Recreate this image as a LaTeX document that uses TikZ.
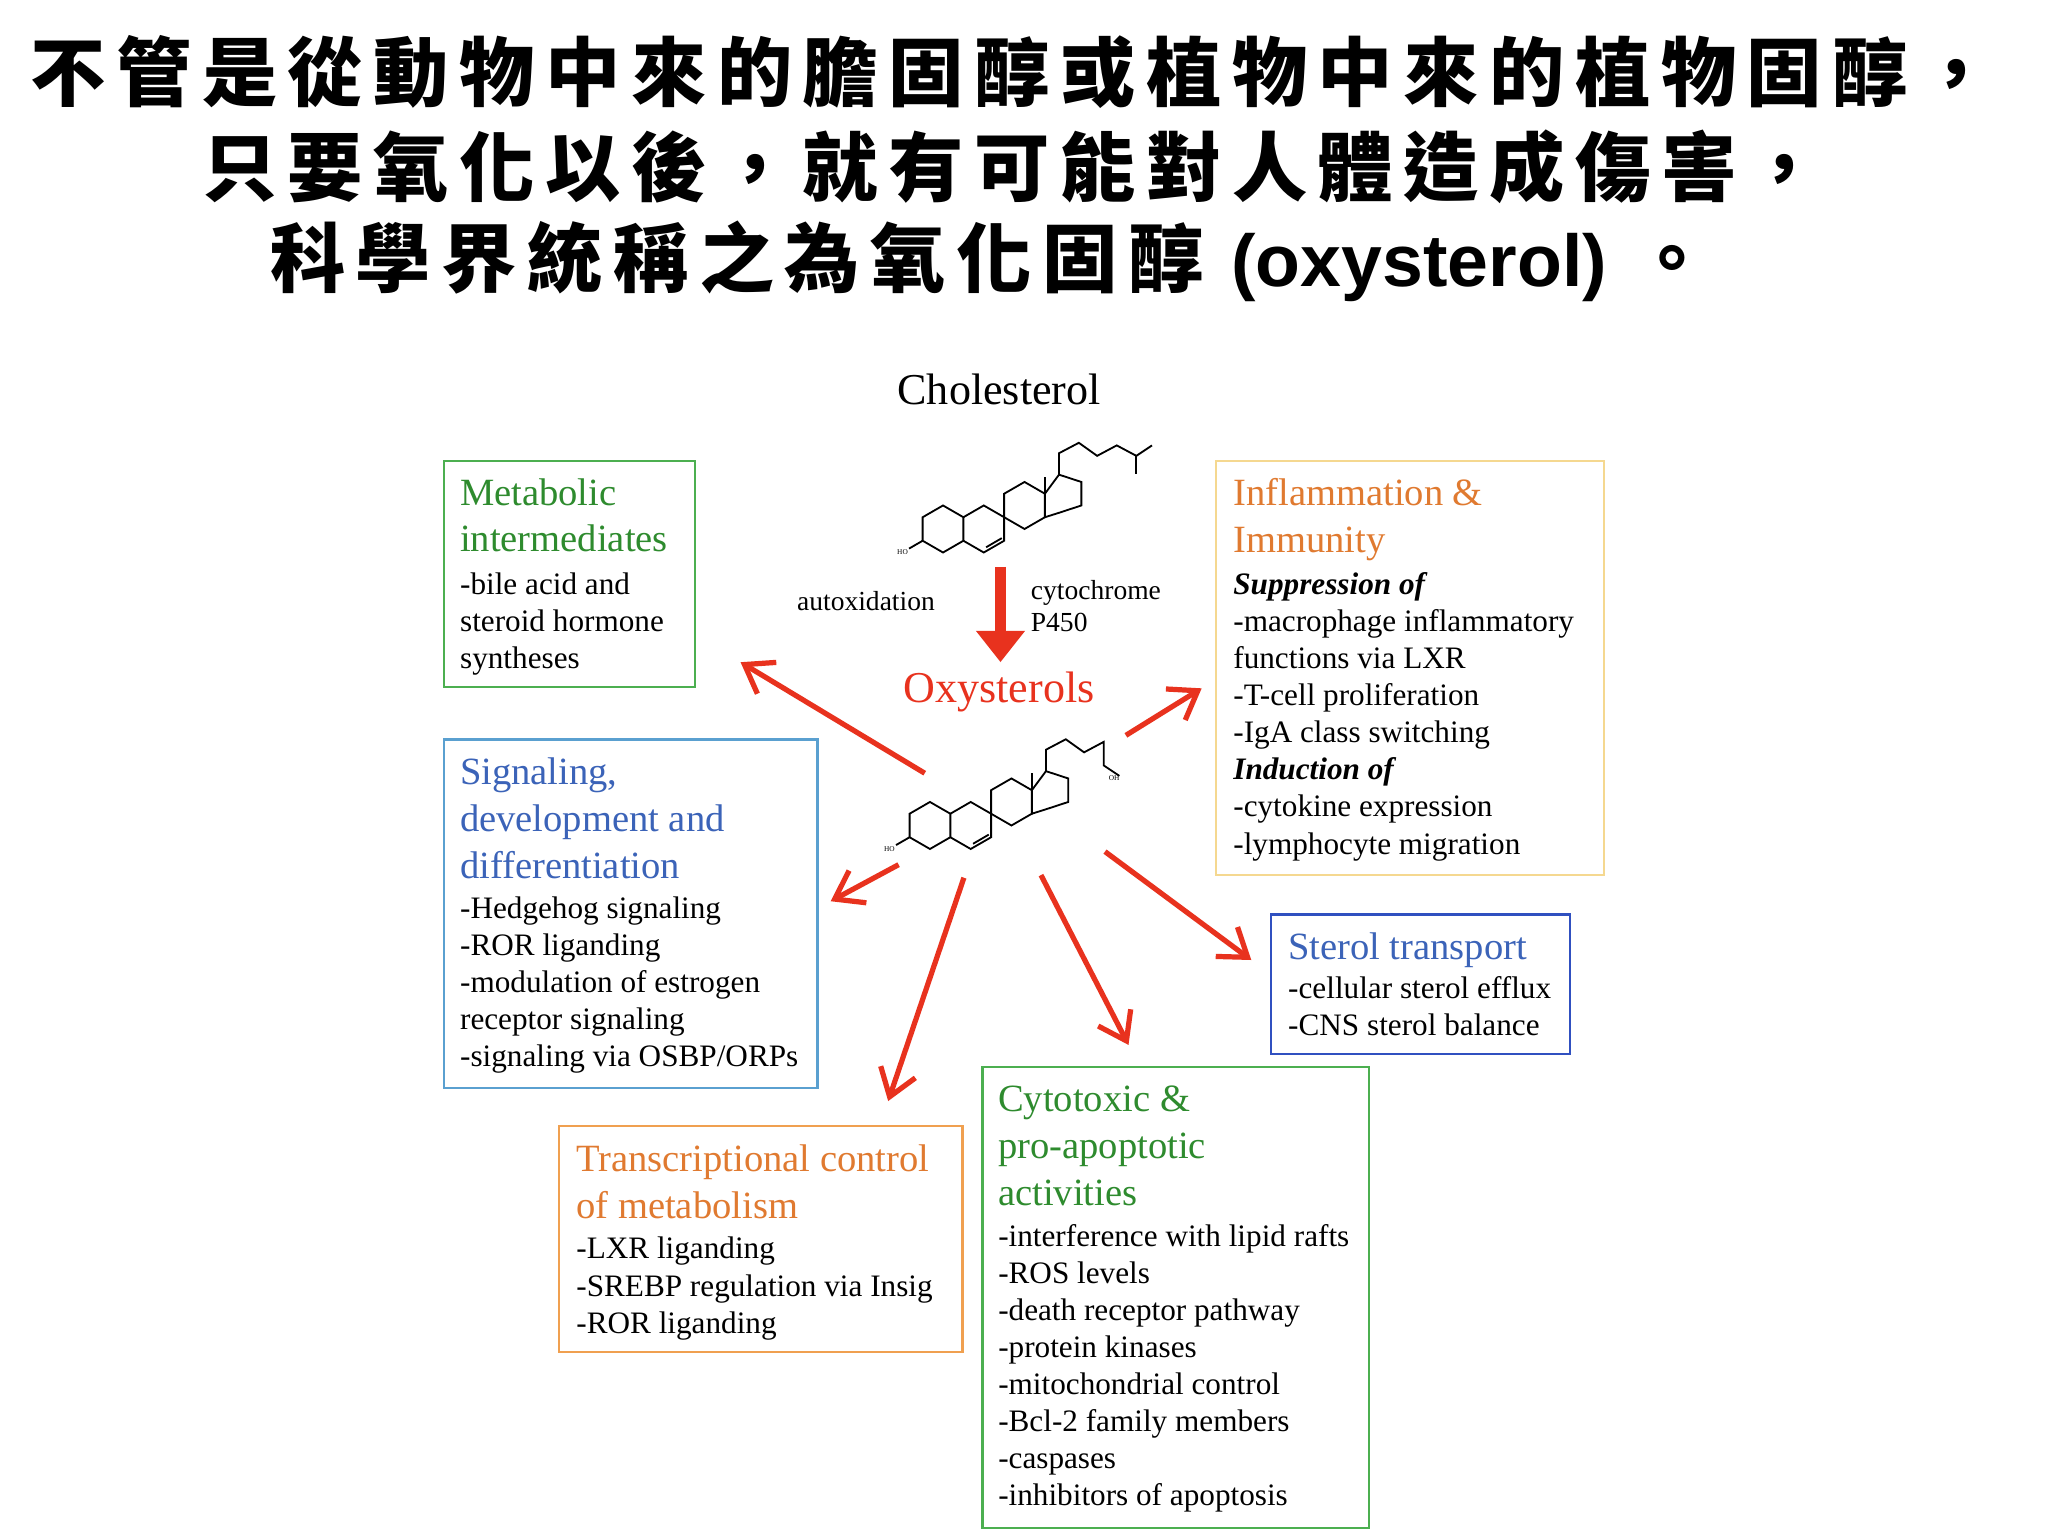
\documentclass[tikz,border=0pt]{standalone}
\usepackage{fontspec}
\setmainfont{Liberation Serif}
\newfontfamily\cjk[LetterSpace=14]{Noto Sans CJK TC}
\newfontfamily\lsans{Liberation Sans}
\usetikzlibrary{arrows.meta}
\definecolor{gr}{HTML}{2E8B2E}
\definecolor{grb}{HTML}{4CAF50}
\definecolor{orh}{HTML}{E07A30}
\definecolor{orb}{HTML}{F0A050}
\definecolor{yeb}{HTML}{F5D890}
\definecolor{blh}{HTML}{3B63B8}
\definecolor{blb}{HTML}{5AA0D0}
\definecolor{blb2}{HTML}{3050C0}
\definecolor{rd}{HTML}{E8321E}
\tikzset{
 hd/.style={anchor=north west,inner sep=0,align=left,font=\fontsize{21}{25.5}\selectfont},
 bd/.style={anchor=north west,inner sep=0,align=left,font=\fontsize{17}{20.2}\selectfont},
 rarr/.style={draw=rd,line width=1mm,-{Straight Barb[length=5mm,width=7mm]}},
 mol/.style={line width=0.35mm},
}
\newcommand\drawsteroid[3]{% x y of ring A center, name prefix
 \begin{scope}[shift={(#1,#2)}]
  \draw[mol] (0,-18) -- (15.6,-9) -- (15.6,9) -- (0,18) -- (-15.6,9) -- (-15.6,-9) -- cycle;
  \draw[mol] (15.6,-9) -- (31.2,-18) -- (46.8,-9) -- (46.8,9) -- (31.2,18) -- (15.6,9);
  \draw[mol] (33,14) -- (45,7);
  \draw[mol] (46.8,-9) -- (46.8,-27) -- (62.4,-36) -- (78,-27) -- (78,-9) -- (62.4,0) -- (46.8,-9);
  \draw[mol] (78,-27) -- (88.8,-41.6) -- (105.9,-36) -- (105.9,-18) -- (88.8,-12.4) -- (78,-9);
  \draw[mol] (46.8,-9) -- (46.8,-22);
  \draw[mol] (78,-27) -- (78,-40);
  \draw[mol] (-15.6,9) -- (-26,15);
  \node[font=\fontsize{4}{4}\selectfont,inner sep=0] (#3ho) at (-31,18) {HO};
 \end{scope}}
\begin{document}
\begin{tikzpicture}[x=0.25mm,y=-0.25mm]
\useasboundingbox (0,0) rectangle (1568,1176);
\fill[white] (0,0) rectangle (1568,1176);
% title
\node[font={\cjk\bfseries\fontsize{41}{41}\selectfont},inner sep=0] (t1) at (775,55) {不管是從動物中來的膽固醇或植物中來的植物固醇，};
\node[font={\cjk\bfseries\fontsize{41}{41}\selectfont},inner sep=0] (t2) at (775,128) {只要氧化以後，就有可能對人體造成傷害，};
\node[font={\cjk\bfseries\fontsize{41}{41}\selectfont},inner sep=0] (t3) at (758,200) {科學界統稱之為氧化固醇 {\lsans\bfseries\fontsize{40}{40}\selectfont(oxysterol)} 。};
% center
\node[font=\fontsize{24}{24}\selectfont] (chol) at (765,298) {Cholesterol};
\drawsteroid{722}{405}{m1}
\begin{scope}[shift={(722,405)}]
 \draw[mol] (88.8,-41.6) -- (88.8,-58) -- (104,-66) -- (118,-56) -- (133,-64) -- (148,-56) -- (160,-64);
 \draw[mol] (148,-56) -- (148,-42);
\end{scope}
\node[font=\fontsize{15}{15}\selectfont] (autox) at (663,460) {autoxidation};
\node[anchor=west,align=left,inner sep=0,font=\fontsize{15}{17.5}\selectfont] (cyt) at (789,464) {cytochrome\\P450};
\coordinate (da) at (766,434);
\coordinate (db) at (766,507);
\draw[draw=rd,line width=2mm,-{Triangle[length=6mm,width=9mm]}] (da) -- (db);
\node[text=rd,font=\fontsize{24}{24}\selectfont] (oxy) at (765,530) {Oxysterols};
\drawsteroid{712}{632}{m2}
\begin{scope}[shift={(712,632)}]
 \draw[mol] (88.8,-41.6) -- (88.8,-58) -- (104,-66) -- (118,-56) -- (133,-64) -- (133,-46) -- (145,-38);
 \node[font=\fontsize{4}{4}\selectfont,inner sep=0] (oh) at (141,-36) {OH};
\end{scope}
% arrows
\coordinate (a1) at (708,592); \coordinate (b1) at (567,507);
\coordinate (a2) at (862,563); \coordinate (b2) at (920,527);
\coordinate (a3) at (688,662); \coordinate (b3) at (636,690);
\coordinate (a4) at (738,672); \coordinate (b4) at (680,843);
\coordinate (a5) at (797,670); \coordinate (b5) at (864,800);
\coordinate (a6) at (846,652); \coordinate (b6) at (958,735);
\foreach \i in {1,...,6} \draw[rarr] (a\i) -- (b\i);
% boxes
\draw[grb,line width=0.5mm] (340,353) rectangle (532,526);
\node[hd,text=gr] (h1) at (352,366) {Metabolic\\intermediates};
\node[bd] (b1t) at (352,438) {-bile acid and\\steroid hormone\\syntheses};

\draw[blb,line width=0.5mm] (340,566) rectangle (626,833);
\node[hd,text=blh] (h2) at (352,580) {Signaling,\\development and\\differentiation};
\node[bd] (b2t) at (352,686) {-Hedgehog signaling\\-ROR liganding\\-modulation of estrogen\\receptor signaling\\-signaling via OSBP/ORPs};

\draw[orb,line width=0.5mm] (428,862) rectangle (737,1035);
\node[hd,text=orh] (h3) at (441,876) {Transcriptional control\\of metabolism};
\node[bd] (b3t) at (441,947) {-LXR liganding\\-SREBP regulation via Insig\\-ROR liganding};

\draw[grb,line width=0.5mm] (752,817) rectangle (1048,1170);
\node[hd,text=gr] (h4) at (764,831) {Cytotoxic \&\\pro-apoptotic\\activities};
\node[bd] (b4t) at (764,937) {-interference with lipid rafts\\-ROS levels\\-death receptor pathway\\-protein kinases\\-mitochondrial control\\-Bcl-2 family members\\-caspases\\-inhibitors of apoptosis};

\draw[blb2,line width=0.5mm] (973,700) rectangle (1202,807);
\node[hd,text=blh] (h5) at (986,714) {Sterol transport};
\node[bd] (b5t) at (986,747) {-cellular sterol efflux\\-CNS sterol balance};

\draw[yeb,line width=0.5mm] (931,353) rectangle (1228,670);
\node[hd,text=orh] (h6) at (944,366) {Inflammation \&\\Immunity};
\node[bd] (b6t) at (944,438) {\textbf{\textit{Suppression of}}\\-macrophage inflammatory\\functions via LXR\\-T-cell proliferation\\-IgA class switching\\\textbf{\textit{Induction of}}\\-cytokine expression\\-lymphocyte migration};
\end{tikzpicture}
\end{document}
